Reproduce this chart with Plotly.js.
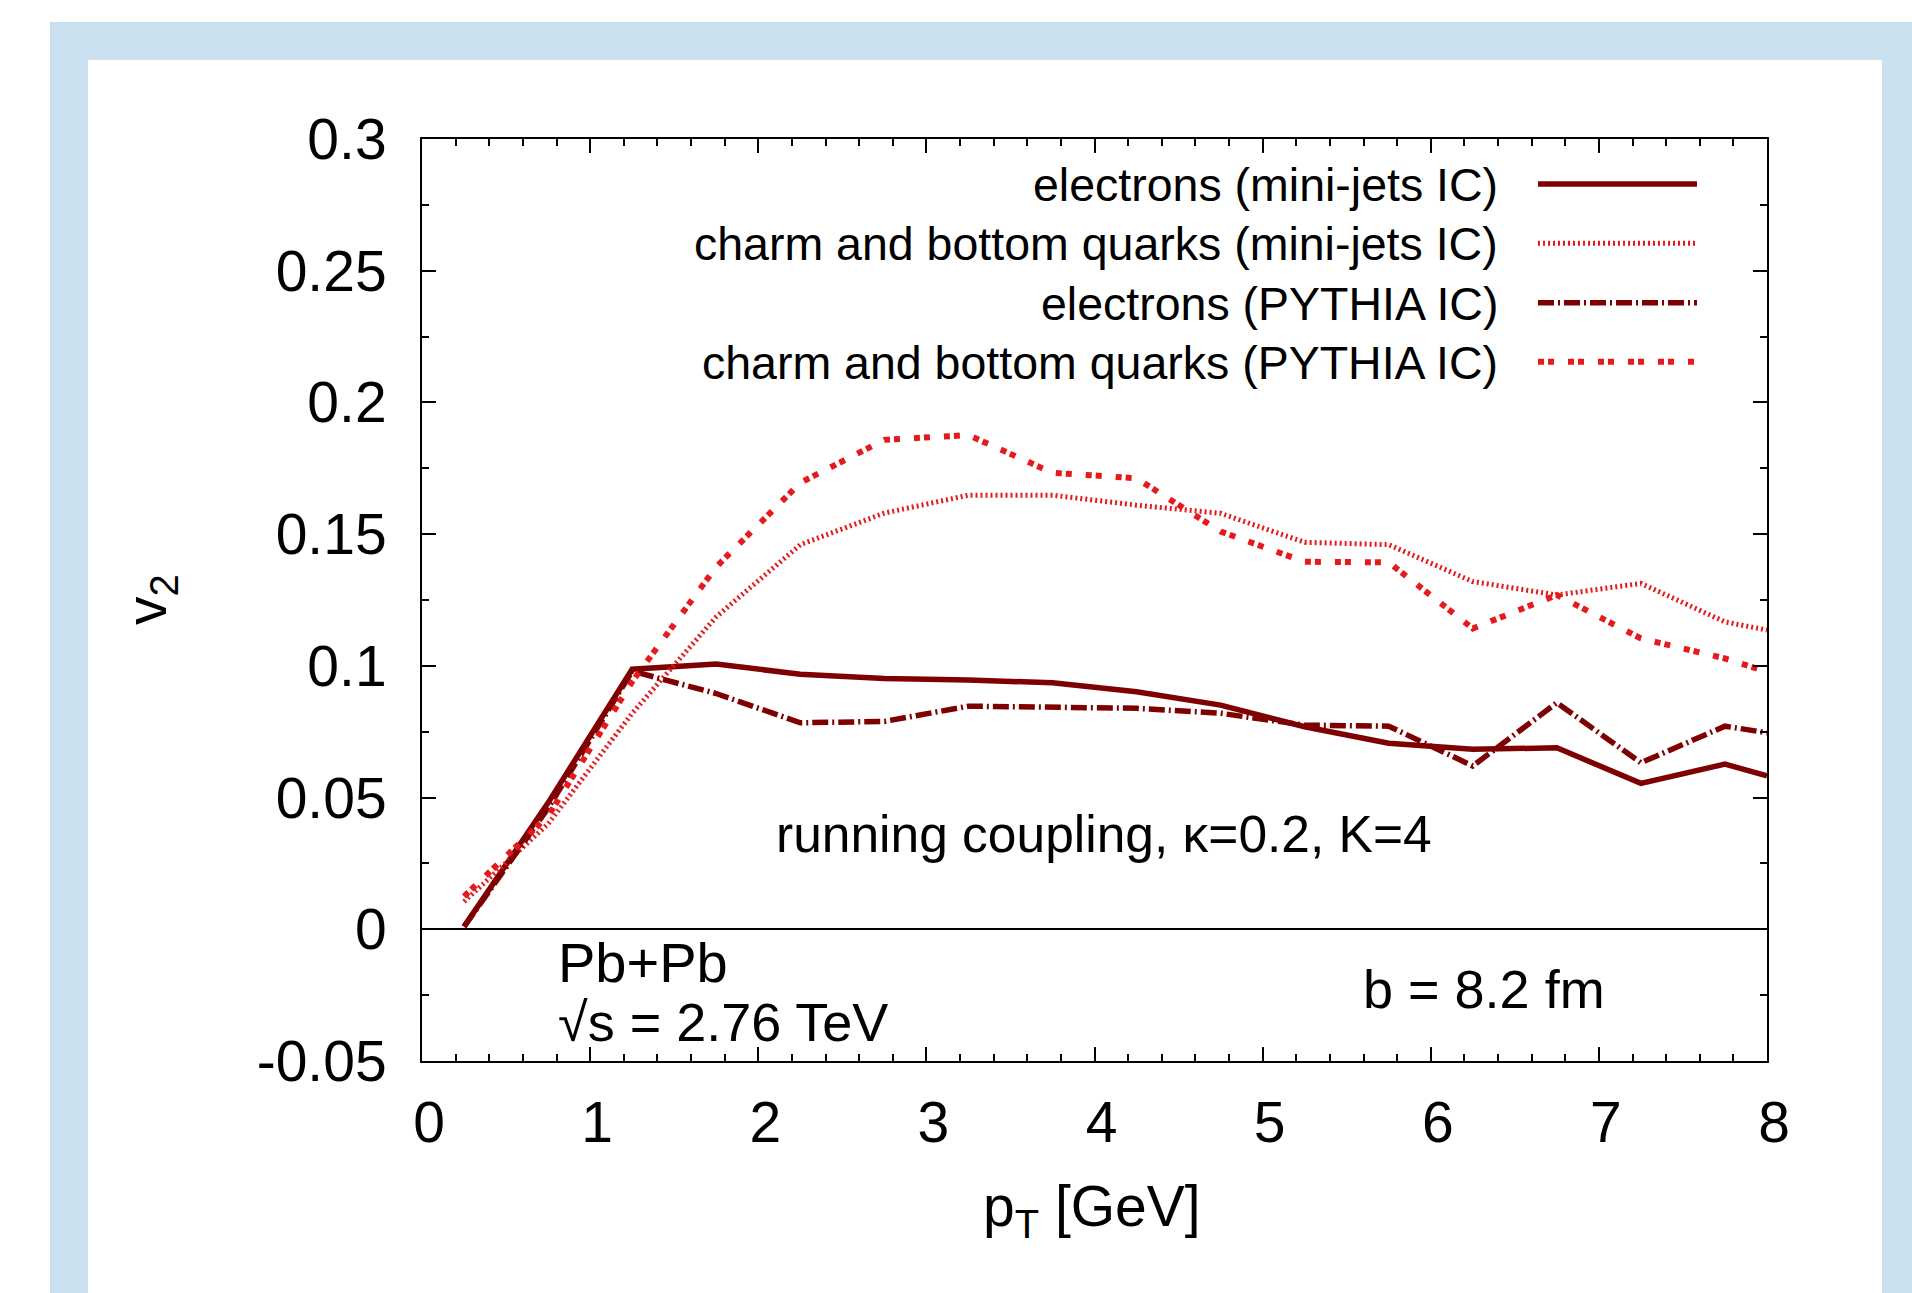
<!DOCTYPE html>
<html>
<head>
<meta charset="utf-8">
<script src="https://cdn.plot.ly/plotly-3.0.1.min.js"></script>
<style>
  html, body { margin: 0; padding: 0; background: #ffffff; }
  #chart { width: 1912px; height: 1293px; }
</style>
</head>
<body>
<div id="chart"></div>
<script>
// ---------------- data ----------------
const pT = [0.25, 0.75, 1.25, 1.75, 2.25, 2.75, 3.25, 3.75, 4.25, 4.75, 5.25, 5.75, 6.25, 6.75, 7.25, 7.75, 8.0];

const v2ElectronsMinijets = [0.001, 0.048, 0.0987, 0.1007, 0.0968, 0.0952, 0.0946, 0.0936, 0.0902, 0.0851, 0.0769, 0.0706, 0.0683, 0.0689, 0.0554, 0.0627, 0.0582];
const v2QuarksMinijets    = [0.0105, 0.040, 0.082, 0.1186, 0.146, 0.158, 0.1648, 0.1648, 0.161, 0.1579, 0.1469, 0.146, 0.132, 0.1269, 0.1313, 0.1167, 0.1136];
const v2ElectronsPythia   = [0.001, 0.046, 0.098, 0.0895, 0.0784, 0.0789, 0.0847, 0.0842, 0.0839, 0.082, 0.0775, 0.0771, 0.062, 0.086, 0.0632, 0.0771, 0.0746];
const v2QuarksPythia      = [0.0125, 0.043, 0.094, 0.1376, 0.1695, 0.1858, 0.1876, 0.1733, 0.1712, 0.151, 0.1395, 0.1393, 0.1142, 0.1269, 0.1104, 0.1028, 0.0978];

const seriesNames = [
  'electrons (mini-jets IC)',
  'charm and bottom quarks (mini-jets IC)',
  'electrons (PYTHIA IC)',
  'charm and bottom quarks (PYTHIA IC)'
];

const xTickVals = [0, 1, 2, 3, 4, 5, 6, 7, 8];
const xTickText = ['0', '1', '2', '3', '4', '5', '6', '7', '8'];
const yTickVals = [-0.05, 0, 0.05, 0.1, 0.15, 0.2, 0.25, 0.3];
const yTickText = ['-0.05', '0', '0.05', '0.1', '0.15', '0.2', '0.25', '0.3'];

const xTitle = 'p<sub>T</sub> [GeV]';
const yTitle = 'v<sub>2</sub>';
const labelCoupling = 'running coupling, κ=0.2, K=4';
const labelSystem = 'Pb+Pb';
const labelEnergy = '√s = 2.76 TeV';
const labelImpact = 'b = 8.2 fm';

// ---------------- styles ----------------
const FONT = 'Liberation Sans, Arial, Helvetica, sans-serif';
const DARK = '#7f0000';
const RED = '#e41a1c';
const styles = [
  {color: DARK, width: 5.5, dash: 'solid'},
  {color: RED,  width: 5,   dash: '2px,3px'},
  {color: DARK, width: 5.5, dash: '16px,4px,2px,4px'},
  {color: RED,  width: 6,   dash: '6px,4px,6px,14px'}
];
const seriesY = [v2ElectronsMinijets, v2QuarksMinijets, v2ElectronsPythia, v2QuarksPythia];

const traces = seriesY.map((ys, i) => ({
  type: 'scatter', mode: 'lines', x: pT, y: ys, name: seriesNames[i],
  line: {color: styles[i].color, width: styles[i].width, dash: styles[i].dash},
  showlegend: false, hoverinfo: 'x+y'
}));

// plot-area geometry in pixels
const W = 1912, H = 1293;
const L = 422, R = 1767, T = 139, B = 1061;
const px2x = p => (p - L) / (R - L);
const px2y = p => (B - p) / (B - T);

// legend (gnuplot style: text right, sample on the right)
const legendSampleY = [184, 243.3, 302.7, 361.7];
const legendTextY = [185, 244.3, 303.7, 362.7];
const annotations = [];
const shapes = [
  {type: 'rect', xref: 'paper', yref: 'paper', layer: 'below',
   x0: px2x(50), x1: px2x(1930), y0: px2y(1310), y1: px2y(22),
   fillcolor: '#cbe0ef', line: {width: 0}},
  {type: 'rect', xref: 'paper', yref: 'paper', layer: 'below',
   x0: px2x(88), x1: px2x(1882), y0: px2y(1310), y1: px2y(60),
   fillcolor: '#ffffff', line: {width: 0}}
];
seriesNames.forEach((name, i) => {
  annotations.push({
    text: name, xref: 'paper', yref: 'paper', x: px2x(1500), y: px2y(legendTextY[i]),
    xanchor: 'right', yanchor: 'middle', showarrow: false,
    font: {family: FONT, size: 46.5, color: '#000'}
  });
  shapes.push({
    type: 'line', xref: 'paper', yref: 'paper',
    x0: px2x(1538), x1: px2x(1697), y0: px2y(legendSampleY[i]), y1: px2y(legendSampleY[i]),
    line: {color: styles[i].color, width: styles[i].width, dash: styles[i].dash}
  });
});

annotations.push(
  {text: labelCoupling, xref: 'paper', yref: 'paper', x: px2x(1104), y: px2y(834),
   xanchor: 'center', yanchor: 'middle', showarrow: false, font: {family: FONT, size: 51.5, color: '#000'}},
  {text: labelSystem, xref: 'paper', yref: 'paper', x: px2x(556), y: px2y(962),
   xanchor: 'left', yanchor: 'middle', showarrow: false, font: {family: FONT, size: 56, color: '#000'}},
  {text: labelEnergy, xref: 'paper', yref: 'paper', x: px2x(556), y: px2y(1022),
   xanchor: 'left', yanchor: 'middle', showarrow: false, font: {family: FONT, size: 54, color: '#000'}},
  {text: labelImpact, xref: 'paper', yref: 'paper', x: px2x(1361), y: px2y(989),
   xanchor: 'left', yanchor: 'middle', showarrow: false, font: {family: FONT, size: 54, color: '#000'}},
  {text: yTitle, xref: 'paper', yref: 'paper', x: px2x(150), y: px2y(600), textangle: -90,
   xanchor: 'center', yanchor: 'middle', showarrow: false, font: {family: FONT, size: 57, color: '#000'}},
  {text: xTitle, xref: 'paper', yref: 'paper', x: px2x(1092), y: px2y(1210),
   xanchor: 'center', yanchor: 'middle', showarrow: false, font: {family: FONT, size: 57, color: '#000'}}
);

const axisCommon = {
  showgrid: false, showline: true, linecolor: '#000', linewidth: 2,
  ticks: 'inside', ticklen: 14, tickwidth: 2, tickcolor: '#000', mirror: 'allticks',
  tickfont: {family: FONT, size: 57, color: '#000'}, fixedrange: true
};

const layout = {
  width: W, height: H, autosize: false,
  margin: {l: L, r: W - R, t: T, b: H - B, pad: 0},
  paper_bgcolor: '#ffffff', plot_bgcolor: 'rgba(0,0,0,0)',
  showlegend: false,
  xaxis: Object.assign({}, axisCommon, {
    range: [0, 8], tickmode: 'array', tickvals: xTickVals, ticktext: xTickText,
    zeroline: false, ticklabelstandoff: 11, ticklabelshift: 7,
    minor: {tick0: 0, dtick: 0.2, ticks: 'inside', ticklen: 7, tickwidth: 2, tickcolor: '#000', showgrid: false}
  }),
  yaxis: Object.assign({}, axisCommon, {
    range: [-0.05, 0.3], tickmode: 'array', tickvals: yTickVals, ticktext: yTickText,
    zeroline: true, zerolinecolor: '#000', zerolinewidth: 2, ticklabelstandoff: 22,
    minor: {tick0: 0, dtick: 0.025, ticks: 'inside', ticklen: 7, tickwidth: 2, tickcolor: '#000', showgrid: false}
  }),
  annotations: annotations,
  shapes: shapes
};

Plotly.newPlot('chart', traces, layout, {displayModeBar: false, staticPlot: true});
</script>
</body>
</html>
